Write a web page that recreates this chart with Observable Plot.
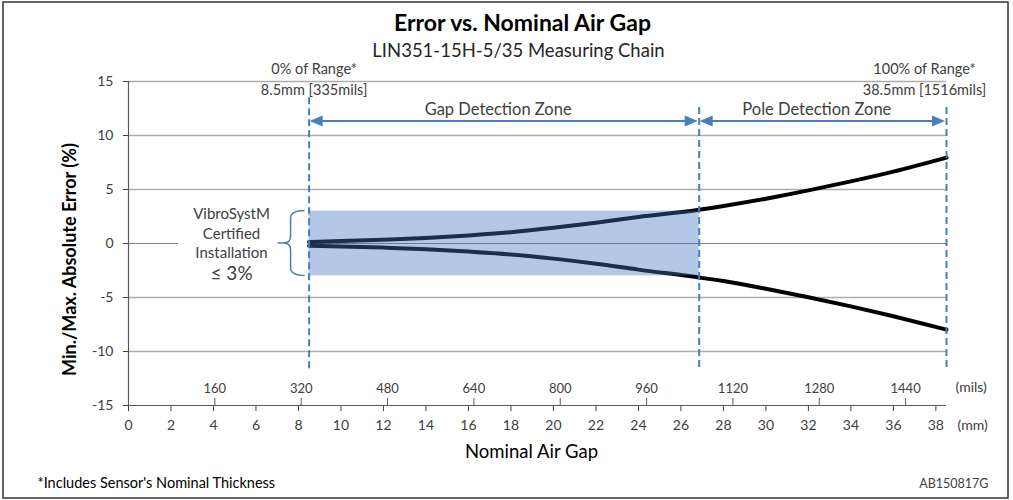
<!DOCTYPE html>
<html><head><meta charset="utf-8">
<script src="https://cdn.jsdelivr.net/npm/d3@7"></script>
<script src="https://cdn.jsdelivr.net/npm/@observablehq/plot@0.6"></script>
<style>body{margin:0;background:#fff;} svg{display:block;}</style>
</head><body><div id="chart"></div>
<script>
// ---- data ----
const gapMm    = [8.5, 10, 12, 14, 16, 18, 20, 22, 24, 26.86, 28, 30, 32, 34, 36, 38.5];
const maxError = [0.15, 0.22, 0.35, 0.52, 0.75, 1.05, 1.45, 1.92, 2.45, 3.12, 3.47, 4.15, 4.92, 5.75, 6.65, 7.95];
const minError = [-0.2, -0.27, -0.38, -0.53, -0.75, -1.02, -1.4, -1.87, -2.42, -3.15, -3.48, -4.19, -4.97, -5.82, -6.74, -7.97];
const mmTicks   = [0, 2, 4, 6, 8, 10, 12, 14, 16, 18, 20, 22, 24, 26, 28, 30, 32, 34, 36, 38];
const milsTicks = [160, 320, 480, 640, 800, 960, 1120, 1280, 1440];
const yTicks    = [-15, -10, -5, 0, 5, 10, 15];
const zoneNames  = ["Gap Detection Zone", "Pole Detection Zone"];
const zoneBounds = [8.5, 26.86, 38.5];
const rangeLabels = ["0% of Range*", "100% of Range*"];
const certifiedLimit = 3;
const MM_PER_MIL = 0.0254;

const rows = [
  ...gapMm.map((x, i) => ({x, y: maxError[i], s: "max"})),
  ...gapMm.map((x, i) => ({x, y: minError[i], s: "min"}))
];
const zones = zoneNames.map((name, i) => ({name, from: zoneBounds[i], to: zoneBounds[i + 1]}));
const rangeEnds = [zoneBounds[0], zoneBounds[zoneBounds.length - 1]];
const rangeInfo = rangeEnds.map((mm, i) => ({mm, label: rangeLabels[i], detail: `${mm}mm [${Math.round(mm / MM_PER_MIL)}mils]`}));

const BLUE = "#4a7ebb";
const TXT = "#404040";

function zoneArrows(index, {x, y}) {
  const g = d3.create("svg:g");
  const yy = y(11.3);
  zones.forEach(z => {
    const x1 = x(z.from) + 1, x2 = x(z.to) - 1;
    g.append("line").attr("x1", x1 + 10).attr("x2", x2 - 10).attr("y1", yy).attr("y2", yy)
      .attr("stroke", BLUE).attr("stroke-width", 2);
    g.append("path").attr("d", `M${x1},${yy}L${x1 + 13},${yy - 5.5}L${x1 + 13},${yy + 5.5}Z`).attr("fill", BLUE);
    g.append("path").attr("d", `M${x2},${yy}L${x2 - 13},${yy - 5.5}L${x2 - 13},${yy + 5.5}Z`).attr("fill", BLUE);
  });
  return g.node();
}

function brace(index, {x, y}) {
  const xb = x(zoneBounds[0]) - 18, xe = x(zoneBounds[0]) - 4, xt = xb - 13;
  const yt = y(certifiedLimit), yb = y(-certifiedLimit), ym = y(0);
  const d = `M${xe},${yt}Q${xb},${yt} ${xb},${yt + 8}L${xb},${ym - 7}Q${xb},${ym} ${xb - 7},${ym}L${xt},${ym}` +
            `M${xb - 7},${ym}Q${xb},${ym} ${xb},${ym + 7}L${xb},${yb - 8}Q${xb},${yb} ${xe},${yb}`;
  return d3.create("svg:path").attr("d", d).attr("fill", "none").attr("stroke", BLUE).attr("stroke-width", 1.5).node();
}

function border() {
  return d3.create("svg:rect").attr("x", 3).attr("y", 2).attr("width", 1005).attr("height", 496)
    .attr("fill", "none").attr("stroke", "#333").attr("stroke-width", 1.5).node();
}

const chart = Plot.plot({
  width: 1013, height: 500,
  marginLeft: 128, marginRight: 67, marginTop: 81, marginBottom: 95,
  style: {fontFamily: "Lato, sans-serif", fontSize: "14px", color: TXT, background: "#fff"},
  x: {domain: [0, 38.5], ticks: mmTicks, tickSize: 6, tickPadding: 9, label: null, tickFormat: d => String(d)},
  y: {domain: [-15, 15], ticks: yTicks, tickSize: 5, tickPadding: 10, label: null, tickFormat: d => String(d)},
  marks: [
    border,
    Plot.ruleY(yTicks.filter(v => v > -15 && v !== 0), {stroke: "#adadad", strokeWidth: 1.5}),
    Plot.ruleY([0], {x1: 0, x2: 2.35, stroke: "#808080", strokeWidth: 1}),
    Plot.ruleY([0], {x1: zoneBounds[0], x2: 38.5, stroke: "#808080", strokeWidth: 1}),
    Plot.line(rows, {x: "x", y: "y", z: "s", stroke: "#000", strokeWidth: 4, curve: "monotone-x"}),
    Plot.rect([{x1: zoneBounds[0], x2: zoneBounds[1], y1: -certifiedLimit, y2: certifiedLimit}],
      {x1: "x1", x2: "x2", y1: "y1", y2: "y2", fill: "#4472c4", fillOpacity: 0.4}),
    Plot.ruleY([-15], {stroke: "#595959", strokeWidth: 1.2}),
    Plot.ruleX([0], {stroke: "#595959", strokeWidth: 1.2}),
    Plot.ruleX(milsTicks, {x: d => d * MM_PER_MIL, y1: -15, y2: -14.35, stroke: "#595959"}),
    Plot.text(milsTicks, {x: d => d * MM_PER_MIL, y: -15, dy: -17, text: d => String(d), fontSize: 13, fill: TXT}),
    Plot.ruleX(zoneBounds, {x: d => d, y1: (d, i) => i === 0 ? 13.5 : 12.6, y2: -11.6,
      stroke: BLUE, strokeWidth: 2, strokeDasharray: "7,4"}),
    zoneArrows,
    Plot.text(zones, {x: d => (d.from + d.to) / 2, y: 12.4, dx: -6, text: "name", fontSize: 16.5, fill: TXT}),
    Plot.text([rangeInfo[0]], {x: "mm", y: 16.1, dx: 5, text: "label", fontSize: 14.5, fill: TXT}),
    Plot.text([rangeInfo[0]], {x: "mm", y: 14.2, dx: 5, text: "detail", fontSize: 14.5, fill: TXT}),
    Plot.text([rangeInfo[1]], {x: "mm", y: 16.1, dx: -22, text: "label", fontSize: 14.5, fill: TXT}),
    Plot.text([rangeInfo[1]], {x: "mm", y: 14.2, dx: -22, text: "detail", fontSize: 14.5, fill: TXT}),
    brace,
    Plot.text(["VibroSystM\nCertified\nInstallation"], {x: 4.85, y: 1.05, text: d => d, fontSize: 15, lineHeight: 1.33, fill: TXT}),
    Plot.text([certifiedLimit], {x: 4.85, y: -2.8, text: d => `≤ ${d}%`, fontSize: 19, fill: TXT}),
    Plot.text(["Error vs. Nominal Air Gap"], {frameAnchor: "top", dx: -15, dy: -58, lineAnchor: "middle", fontSize: 23, fontWeight: "bold", fill: "#000"}),
    Plot.text(["LIN351-15H-5/35 Measuring Chain"], {frameAnchor: "top", dx: -19, dy: -30, lineAnchor: "middle", fontSize: 18.5, fill: "#262626"}),
    Plot.text(["Min./Max. Absolute Error (%)"], {frameAnchor: "left", dx: -58, dy: 16, rotate: -90, lineAnchor: "middle", textAnchor: "middle", fontSize: 18, fontWeight: "bold", fill: "#000"}),
    Plot.text(["Nominal Air Gap"], {frameAnchor: "bottom", dx: -6, dy: 47, lineAnchor: "middle", fontSize: 18.5, fill: "#000"}),
    Plot.text(["(mils)"], {frameAnchor: "bottom-right", dx: 9, dy: -18, textAnchor: "start", lineAnchor: "middle", fontSize: 14, fill: TXT}),
    Plot.text(["(mm)"], {frameAnchor: "bottom-right", dx: 11, dy: 20, textAnchor: "start", lineAnchor: "middle", fontSize: 14, fill: TXT}),
    Plot.text(["*Includes Sensor's Nominal Thickness"], {frameAnchor: "bottom-left", dx: -91, dy: 78, textAnchor: "start", lineAnchor: "middle", fontSize: 14.5, fill: "#000"}),
    Plot.text(["AB150817G"], {frameAnchor: "bottom-right", dx: 42, dy: 78, textAnchor: "end", lineAnchor: "middle", fontSize: 12.5, fill: TXT})
  ]
});
document.getElementById("chart").append(chart);
</script>
</body></html>
